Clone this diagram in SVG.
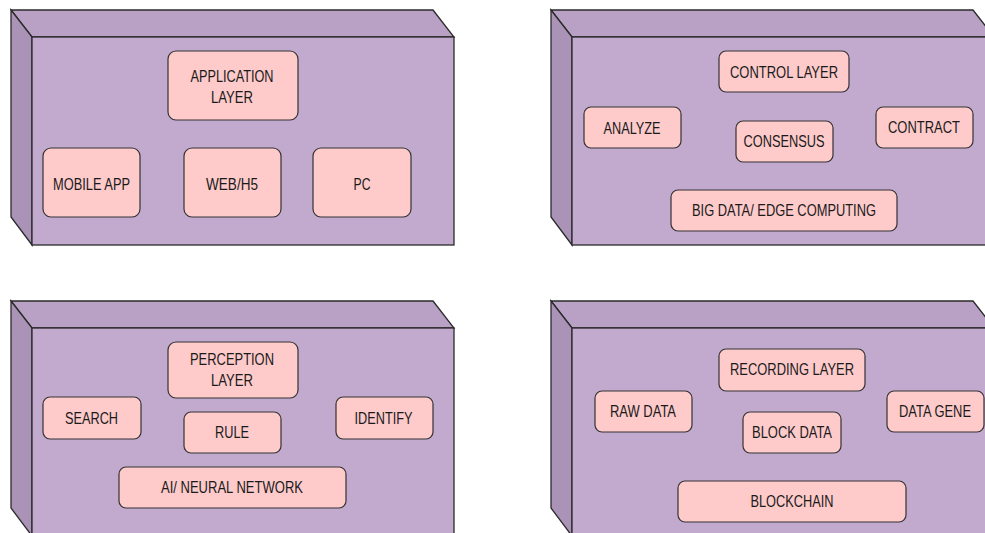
<svg xmlns="http://www.w3.org/2000/svg" width="985" height="533" viewBox="0 0 985 533">
<style>
.front{fill:#C2AACF;stroke:#2a2a2a;stroke-width:1.3}
.top{fill:#B9A1C6;stroke:#2a2a2a;stroke-width:1.3}
.side{fill:#AA93B7;stroke:#2a2a2a;stroke-width:1.3}
.n rect{fill:#FECACA;stroke:#333;stroke-width:1.2}
.n text{font-family:"Liberation Sans",Arial,sans-serif;font-size:17px;fill:#1a1a1a;text-anchor:middle;dominant-baseline:central}
</style>
<defs>
<g id="cube">
<polygon class="top" points="11,10 433,10 454,37 32,37"/>
<polygon class="side" points="11,10 32,37 32,245 11,217"/>
<rect class="front" x="32" y="37" width="422" height="208"/>
</g>
</defs>
<g id="box-application">
<use href="#cube"/>
<g class="n" id="n-application-layer"><rect x="168" y="51" width="130" height="69" rx="8"/><text x="232" y="76" textLength="83" lengthAdjust="spacingAndGlyphs">APPLICATION</text><text x="232" y="97" textLength="42" lengthAdjust="spacingAndGlyphs">LAYER</text></g>
<g class="n" id="n-mobile-app"><rect x="43" y="148" width="97" height="69" rx="8"/><text x="91.5" y="184" textLength="77" lengthAdjust="spacingAndGlyphs">MOBILE APP</text></g>
<g class="n" id="n-web-h5"><rect x="184" y="148" width="97" height="69" rx="8"/><text x="232" y="184" textLength="52" lengthAdjust="spacingAndGlyphs">WEB/H5</text></g>
<g class="n" id="n-pc"><rect x="313" y="148" width="98" height="69" rx="8"/><text x="362" y="184" textLength="17" lengthAdjust="spacingAndGlyphs">PC</text></g>
</g>
<g id="box-control">
<use href="#cube" transform="translate(540,0)"/>
<g class="n" id="n-control-layer"><rect x="719" y="51" width="130" height="41" rx="7"/><text x="784" y="72" textLength="108" lengthAdjust="spacingAndGlyphs">CONTROL LAYER</text></g>
<g class="n" id="n-analyze"><rect x="584" y="107" width="97" height="41" rx="7"/><text x="632" y="128" textLength="57" lengthAdjust="spacingAndGlyphs">ANALYZE</text></g>
<g class="n" id="n-consensus"><rect x="736" y="121" width="97" height="41" rx="7"/><text x="784" y="141.5" textLength="81" lengthAdjust="spacingAndGlyphs">CONSENSUS</text></g>
<g class="n" id="n-contract"><rect x="876" y="107" width="97" height="41" rx="7"/><text x="924" y="127.5" textLength="72" lengthAdjust="spacingAndGlyphs">CONTRACT</text></g>
<g class="n" id="n-bigdata"><rect x="671" y="190" width="226" height="41" rx="7"/><text x="784" y="210.5" textLength="184" lengthAdjust="spacingAndGlyphs">BIG DATA/ EDGE COMPUTING</text></g>
</g>
<g id="box-perception">
<use href="#cube" transform="translate(0,291)"/>
<g class="n" id="n-perception-layer"><rect x="168" y="342" width="130" height="56" rx="8"/><text x="232" y="359.5" textLength="84" lengthAdjust="spacingAndGlyphs">PERCEPTION</text><text x="232" y="380.5" textLength="42" lengthAdjust="spacingAndGlyphs">LAYER</text></g>
<g class="n" id="n-search"><rect x="43" y="397" width="98" height="42" rx="7"/><text x="91.5" y="418" textLength="53" lengthAdjust="spacingAndGlyphs">SEARCH</text></g>
<g class="n" id="n-rule"><rect x="184" y="412" width="97" height="41" rx="7"/><text x="232" y="432" textLength="34" lengthAdjust="spacingAndGlyphs">RULE</text></g>
<g class="n" id="n-identify"><rect x="336" y="397" width="97" height="42" rx="7"/><text x="383.5" y="418" textLength="58" lengthAdjust="spacingAndGlyphs">IDENTIFY</text></g>
<g class="n" id="n-ai"><rect x="119" y="467" width="227" height="41" rx="7"/><text x="232" y="487" textLength="142" lengthAdjust="spacingAndGlyphs">AI/ NEURAL NETWORK</text></g>
</g>
<g id="box-recording">
<use href="#cube" transform="translate(540,291)"/>
<g class="n" id="n-recording-layer"><rect x="719" y="349" width="146" height="42" rx="7"/><text x="792" y="369.5" textLength="124" lengthAdjust="spacingAndGlyphs">RECORDING LAYER</text></g>
<g class="n" id="n-raw-data"><rect x="595" y="391" width="97" height="41" rx="7"/><text x="643" y="411" textLength="66" lengthAdjust="spacingAndGlyphs">RAW DATA</text></g>
<g class="n" id="n-block-data"><rect x="743" y="412" width="98" height="41" rx="7"/><text x="792" y="432" textLength="80" lengthAdjust="spacingAndGlyphs">BLOCK DATA</text></g>
<g class="n" id="n-data-gene"><rect x="887" y="391" width="97" height="41" rx="7"/><text x="935" y="411" textLength="72" lengthAdjust="spacingAndGlyphs">DATA GENE</text></g>
<g class="n" id="n-blockchain"><rect x="678" y="481" width="228" height="41" rx="7"/><text x="792" y="501" textLength="83" lengthAdjust="spacingAndGlyphs">BLOCKCHAIN</text></g>
</g>
<g id="connectors"/>
</svg>
